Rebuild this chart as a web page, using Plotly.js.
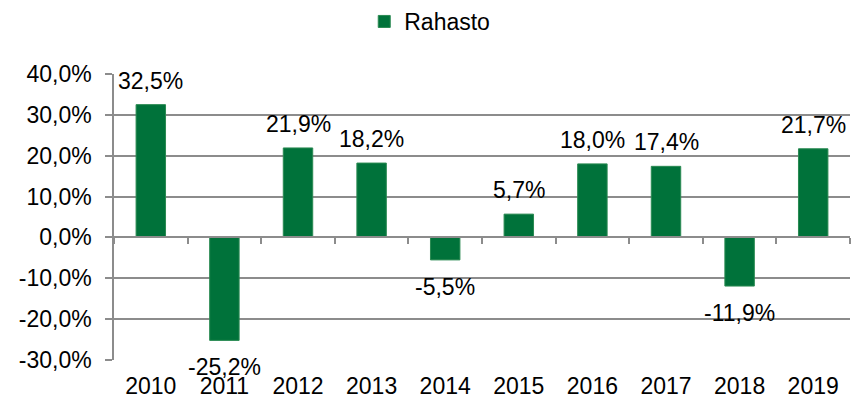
<!DOCTYPE html>
<html><head><meta charset="utf-8">
<script src="https://cdn.plot.ly/plotly-3.0.1.min.js"></script>
<style>html,body{margin:0;padding:0;background:#fff}#c{width:865px;height:406px}</style>
</head><body><div id="c"></div>
<script>
const years = ['2010','2011','2012','2013','2014','2015','2016','2017','2018','2019'];
const rahasto = [32.5, -25.2, 21.9, 18.2, -5.5, 5.7, 18.0, 17.4, -11.9, 21.7];
const yTicks = [-30, -20, -10, 0, 10, 20, 30, 40];
const yTickText = yTicks.map(v => v.toFixed(1).replace('.', ',') + '%');
const fmt = v => v.toFixed(1).replace('.', ',') + '%';

const font = {family: 'Liberation Sans, Arial, sans-serif', size: 23, color: '#000'};
const trace = {
  type: 'bar', x: years, y: rahasto, name: 'Rahasto',
  marker: {color: '#00723a', line: {color: '#2a8a52', width: 1}},
  hoverinfo: 'x+y'
};
const annotations = years.map((yr, i) => ({
  x: i, y: rahasto[i], xref: 'x', yref: 'y',
  text: fmt(rahasto[i]), showarrow: false, font: font,
  yanchor: rahasto[i] >= 0 ? 'bottom' : 'top',
  yshift: rahasto[i] >= 0 ? 9 : -12
}));
const layout = {
  width: 865, height: 406,
  margin: {l: 114, r: 15, t: 74, b: 46},
  paper_bgcolor: '#fff', plot_bgcolor: '#fff',
  separators: ', ',
  font: font,
  bargap: 0.6,
  showlegend: true,
  annotations: annotations,
  legend: {orientation: 'h', x: 0.34, xanchor: 'left', y: 1, yref: 'container', yanchor: 'top',
           font: font, itemwidth: 30},
  xaxis: {type: 'category', range: [-0.5, years.length - 0.5], showgrid: false, zeroline: false,
          showline: false, ticks: '', tickfont: font, ticklabelstandoff: 10},
  xaxis2: {type: 'category', overlaying: 'x', anchor: 'free', position: 3/7, matching: 'x',
           showline: true, linecolor: '#8c8c8c', linewidth: 1.5, ticks: 'outside', ticklen: 6,
           tickcolor: '#8c8c8c', tickwidth: 1.5, tickson: 'boundaries', showticklabels: false, showgrid: false},
  yaxis: {range: [-30, 40], tickmode: 'array', tickvals: yTicks, ticktext: yTickText,
          showgrid: true, gridcolor: '#8c8c8c', gridwidth: 1.5, zeroline: false,
          showline: true, linecolor: '#8c8c8c', linewidth: 1.5,
          ticks: 'outside', ticklen: 7, tickcolor: '#8c8c8c', tickwidth: 1.5,
          tickfont: font, ticklabelstandoff: 9}
};
const axisTrace = {type: 'bar', x: years, y: years.map(() => null), xaxis: 'x2', showlegend: false, hoverinfo: 'skip'};
Plotly.newPlot('c', [trace, axisTrace], layout, {displayModeBar: false});
</script></body></html>
